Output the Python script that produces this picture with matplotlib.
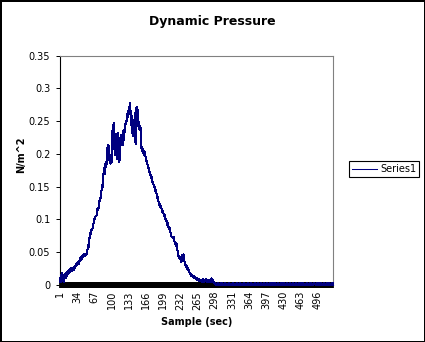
import numpy as np
import matplotlib
matplotlib.use("Agg")
import matplotlib.pyplot as plt

# ---------------- data ----------------
title = "Dynamic Pressure"
x_label = "Sample (sec)"
y_label = "N/m^2"
series_name = "Series1"
n_samples = 525
x_tick_values = [1, 34, 67, 100, 133, 166, 199, 232, 265, 298, 331, 364, 397, 430, 463, 496]
y_tick_values = [0, 0.05, 0.1, 0.15, 0.2, 0.25, 0.3, 0.35]
y_tick_labels = ["0", "0.05", "0.1", "0.15", "0.2", "0.25", "0.3", "0.35"]

pressure = [
    0.010, 0.004, 0.015, 0.006, 0.018, 0.008, 0.013, 0.005, 0.016, 0.010,
    0.017, 0.011, 0.018, 0.014, 0.020, 0.017, 0.022, 0.019, 0.024, 0.020,
    0.023, 0.026, 0.021, 0.025, 0.024, 0.026, 0.023, 0.027, 0.025, 0.028,
    0.031, 0.029, 0.034, 0.030, 0.033, 0.035, 0.032, 0.037, 0.036, 0.041,
    0.038, 0.043, 0.040, 0.045, 0.043, 0.047, 0.044, 0.046, 0.044, 0.048,
    0.045, 0.049, 0.047, 0.056, 0.061, 0.058, 0.066, 0.075, 0.079, 0.077,
    0.083, 0.086, 0.084, 0.090, 0.092, 0.099, 0.101, 0.100, 0.104, 0.105,
    0.106, 0.112, 0.116, 0.114, 0.118, 0.122, 0.130, 0.128, 0.135, 0.141,
    0.146, 0.152, 0.149, 0.168, 0.172, 0.178, 0.170, 0.184, 0.188, 0.180,
    0.201, 0.210, 0.196, 0.214, 0.205, 0.190, 0.198, 0.185, 0.193, 0.187,
    0.200, 0.245, 0.212, 0.247, 0.208, 0.225, 0.198, 0.230, 0.214, 0.193,
    0.222, 0.232, 0.205, 0.188, 0.219, 0.190, 0.224, 0.229, 0.215, 0.226,
    0.213, 0.230, 0.236, 0.221, 0.240, 0.233, 0.250, 0.246, 0.252, 0.258,
    0.265, 0.257, 0.271, 0.262, 0.278, 0.260, 0.266, 0.244, 0.258, 0.232,
    0.252, 0.227, 0.248, 0.236, 0.262, 0.215, 0.268, 0.272, 0.256, 0.268,
    0.243, 0.249, 0.238, 0.243, 0.236, 0.240, 0.212, 0.205, 0.210, 0.201,
    0.208, 0.198, 0.205, 0.200, 0.197, 0.193, 0.188, 0.190, 0.184, 0.182,
    0.178, 0.176, 0.170, 0.172, 0.166, 0.163, 0.165, 0.158, 0.155, 0.157,
    0.150, 0.152, 0.146, 0.143, 0.145, 0.140, 0.136, 0.132, 0.134, 0.128,
    0.125, 0.122, 0.124, 0.118, 0.120, 0.116, 0.112, 0.114, 0.110, 0.108,
    0.105, 0.107, 0.102, 0.098, 0.100, 0.095, 0.092, 0.094, 0.089, 0.086,
    0.088, 0.084, 0.080, 0.076, 0.074, 0.073, 0.074, 0.072, 0.073, 0.070,
    0.066, 0.063, 0.065, 0.060, 0.062, 0.056, 0.050, 0.046, 0.041, 0.044,
    0.040, 0.042, 0.038, 0.035, 0.041, 0.046, 0.038, 0.047, 0.040, 0.036,
    0.033, 0.030, 0.027, 0.029, 0.025, 0.023, 0.026, 0.021, 0.020, 0.018,
    0.016, 0.017, 0.014, 0.015, 0.013, 0.014, 0.012, 0.013, 0.011, 0.012,
    0.010, 0.011, 0.009, 0.008, 0.010, 0.007, 0.009, 0.006, 0.008, 0.006,
    0.008, 0.007, 0.005, 0.008, 0.006, 0.009, 0.007, 0.005, 0.008, 0.006,
    0.009, 0.006, 0.005, 0.007, 0.006, 0.008, 0.005, 0.006, 0.004, 0.007,
    0.005, 0.010, 0.006, 0.004, 0.007, 0.003, 0.005, 0.002, 0.001, 0.000,
    0.002, 0.000, 0.001, 0.003, 0.000, 0.001, 0.000, 0.002, 0.001, 0.000,
    0.003, 0.001, 0.000, 0.002, 0.000, 0.001, 0.003, 0.000, 0.001, 0.002,
    0.000, 0.001, 0.002, 0.000, 0.003, 0.001, 0.000, 0.000, 0.002, 0.001,
    0.001, 0.000, 0.003, 0.001, 0.000, 0.002, 0.001, 0.000, 0.000, 0.003,
    0.000, 0.002, 0.001, 0.000, 0.001, 0.003, 0.000, 0.001, 0.002, 0.000,
    0.002, 0.001, 0.000, 0.003, 0.001, 0.000, 0.002, 0.000, 0.001, 0.000,
    0.000, 0.003, 0.001, 0.000, 0.002, 0.001, 0.000, 0.003, 0.000, 0.001,
    0.001, 0.000, 0.002, 0.000, 0.001, 0.003, 0.001, 0.000, 0.002, 0.000,
    0.003, 0.000, 0.001, 0.002, 0.000, 0.000, 0.003, 0.001, 0.000, 0.002,
    0.000, 0.001, 0.003, 0.000, 0.002, 0.001, 0.000, 0.001, 0.003, 0.000,
    0.002, 0.000, 0.000, 0.001, 0.003, 0.000, 0.002, 0.001, 0.000, 0.003,
    0.001, 0.002, 0.000, 0.003, 0.000, 0.001, 0.000, 0.002, 0.003, 0.000,
    0.000, 0.001, 0.002, 0.000, 0.003, 0.000, 0.001, 0.003, 0.000, 0.002,
    0.003, 0.000, 0.001, 0.000, 0.002, 0.001, 0.003, 0.000, 0.001, 0.000,
    0.001, 0.003, 0.000, 0.002, 0.000, 0.001, 0.000, 0.003, 0.002, 0.000,
    0.000, 0.002, 0.001, 0.003, 0.000, 0.000, 0.002, 0.001, 0.000, 0.003,
    0.002, 0.000, 0.003, 0.001, 0.000, 0.002, 0.000, 0.003, 0.001, 0.000,
    0.001, 0.000, 0.002, 0.000, 0.003, 0.001, 0.002, 0.000, 0.000, 0.003,
    0.000, 0.003, 0.001, 0.002, 0.000, 0.001, 0.000, 0.002, 0.003, 0.001,
    0.002, 0.000, 0.001, 0.000, 0.003, 0.002, 0.000, 0.001, 0.000, 0.002,
    0.003, 0.001, 0.000, 0.002, 0.001, 0.000, 0.003, 0.000, 0.002, 0.001,
    0.000, 0.002, 0.003, 0.000, 0.001, 0.002, 0.000, 0.003, 0.001, 0.000,
    0.001, 0.000, 0.002, 0.003, 0.000,
]

# ---------------- figure ----------------
W, H = 425, 342
fig = plt.figure(figsize=(W / 100, H / 100), dpi=100)
fig.patch.set_facecolor("white")
fig.patch.set_edgecolor("black")
fig.patch.set_linewidth(2)

ax = fig.add_axes([60 / W, (H - 285) / H, (333 - 60) / W, (285 - 55.7) / H])
ax.set_facecolor("white")

x = np.arange(1, len(pressure) + 1)
ax.plot(x, pressure, color="#000080", lw=0.75, label=series_name, zorder=5,
        antialiased=False, clip_on=False)

ax.set_xlim(1, n_samples)
ax.set_ylim(0, 0.35)

ax.set_yticks(y_tick_values)
ax.set_yticklabels(y_tick_labels)
ax.set_xticks(x_tick_values)
ax.set_xticklabels([str(v) for v in x_tick_values], rotation=90)
ax.set_xticks(np.arange(1, n_samples + 1), minor=True)

ax.tick_params(axis="y", direction="out", length=3, width=0.7, pad=4,
               labelsize=7, colors="black")
ax.tick_params(axis="x", which="both", direction="inout", length=4.5, width=1.3,
               pad=2, labelsize=7, colors="black")

for side in ("left", "bottom"):
    ax.spines[side].set_color("black")
    ax.spines[side].set_linewidth(0.8)
for side in ("top", "right"):
    ax.spines[side].set_color("#808080")
    ax.spines[side].set_linewidth(0.8)

fig.text(212.5 / W, 1 - 21.5 / H, title, ha="center", va="center",
         fontsize=9, fontweight="bold")
fig.text(196.5 / W, 1 - 322 / H, x_label, ha="center", va="center",
         fontsize=7, fontweight="bold")
fig.text(21 / W, 1 - 155 / H, y_label, ha="center", va="center",
         fontsize=7, fontweight="bold", rotation=90)

leg = ax.legend(loc="center left", bbox_to_anchor=(349 / W, 1 - 169 / H),
                bbox_transform=fig.transFigure, borderaxespad=0, fontsize=7,
                frameon=True, fancybox=False, framealpha=1, edgecolor="black",
                handlelength=2.6, handletextpad=0.3, borderpad=0.3)
leg.get_frame().set_linewidth(0.8)

fig.savefig("out.png", dpi=100)
